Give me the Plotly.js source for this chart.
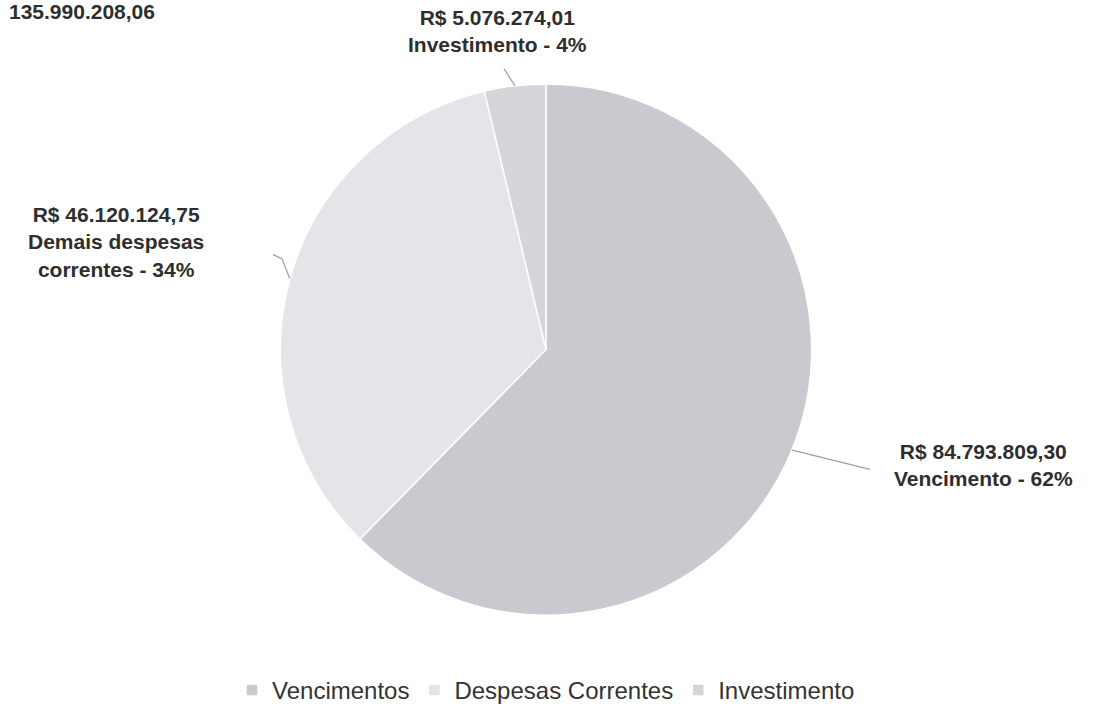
<!DOCTYPE html>
<html>
<head>
<meta charset="utf-8">
<script src="https://cdn.plot.ly/plotly-3.0.1.min.js"></script>
<style>
html,body{margin:0;padding:0;background:#fff;}
#chart{width:1099px;height:713px;}
</style>
</head>
<body>
<div id="chart"></div>
<script>
// ---- data ----
const categories = ['Vencimentos', 'Despesas Correntes', 'Investimento'];
const values = [84793809.30, 46120124.75, 5076274.01];
const labelNames = ['Vencimento', 'Demais despesas<br>correntes', 'Investimento'];
const colors = ['#c9c9cf', '#e4e4e9', '#d5d5da'];

// ---- layout helpers ----
const W = 1099, H = 713;
const CX = 546, CY = 350, R = 266;
const px = x => x / W;
const py = y => 1 - y / H;

function fmtBR(v) {
  const fixed = v.toFixed(2);
  let [ip, dp] = fixed.split('.');
  ip = ip.replace(/\B(?=(\d{3})+(?!\d))/g, '.');
  return ip + ',' + dp;
}

const total = values.reduce((a, b) => a + b, 0);

// label placement (text centre in px) and leader-line end points (px)
const labelPos = [
  {x: 983, y: 466},
  {x: 116, y: 242},
  {x: 497, y: 31}
];
const leaderEnds = [
  [[870, 470]],
  [[282, 259], [273, 255]],
  [[504, 69]]
];

const annotations = [];
const shapes = [];
let cum = 0;
values.forEach((v, i) => {
  const mid = (cum + v / 2) / total * 2 * Math.PI;
  cum += v;
  const ex = CX + R * Math.sin(mid), ey = CY - R * Math.cos(mid);
  let path = 'M' + px(ex) + ',' + py(ey);
  leaderEnds[i].forEach(p => { path += ' L' + px(p[0]) + ',' + py(p[1]); });
  shapes.push({type: 'path', xref: 'paper', yref: 'paper', path: path,
    line: {color: '#a0a0a0', width: 1.3}});
  const pct = Math.round(v / total * 100);
  annotations.push({
    xref: 'paper', yref: 'paper', x: px(labelPos[i].x), y: py(labelPos[i].y),
    xanchor: 'center', yanchor: 'middle', showarrow: false, align: 'center',
    text: '<b>R$ ' + fmtBR(v) + '<br>' + labelNames[i] + ' - ' + pct + '%</b>',
    font: {family: 'Liberation Sans, Arial, sans-serif', size: 21, color: '#2e2e2e'}
  });
});
annotations.push({
  xref: 'paper', yref: 'paper', x: px(7), y: py(12), xanchor: 'left', yanchor: 'middle',
  showarrow: false, text: '<b>' + fmtBR(total) + '</b>',
  font: {family: 'Liberation Sans, Arial, sans-serif', size: 21, color: '#2e2e2e'}
});

const trace = {
  type: 'pie',
  labels: categories,
  values: values,
  sort: false,
  direction: 'clockwise',
  rotation: 0,
  textinfo: 'none',
  hoverinfo: 'label+value+percent',
  marker: {colors: colors, line: {color: '#ffffff', width: 1.5}},
  domain: {x: [px(CX - R), px(CX + R)], y: [py(CY + R), py(CY - R)]}
};

const layout = {
  width: W, height: H,
  margin: {l: 0, r: 0, t: 0, b: 0},
  paper_bgcolor: '#ffffff',
  showlegend: true,
  legend: {
    orientation: 'h', x: px(546), xanchor: 'center', y: py(691), yanchor: 'middle',
    font: {family: 'Liberation Sans, Arial, sans-serif', size: 24, color: '#333333'},
    itemwidth: 30, traceorder: 'normal'
  },
  annotations: annotations,
  shapes: shapes
};

Plotly.newPlot('chart', [trace], layout, {displayModeBar: false, staticPlot: true});
</script>
</body>
</html>
